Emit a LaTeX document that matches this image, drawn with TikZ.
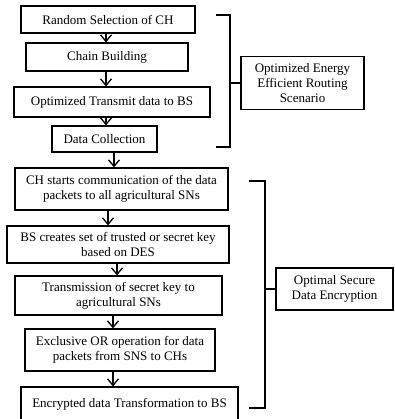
\documentclass[tikz,border=0pt]{standalone}
\usepackage{fontspec}
\setmainfont{Liberation Serif}
\usetikzlibrary{arrows.meta}
\begin{document}
\begin{tikzpicture}[x=1pt,y=-1pt,
  box/.style={draw=black, line width=1.3pt, fill=white, inner sep=0pt,
              align=center, font=\fontsize{13}{15}\selectfont},
  arr/.style={line width=1.3pt, -{Straight Barb[length=6.5pt,width=11pt]}},
  brk/.style={line width=1.3pt}]
\useasboundingbox (0,0) rectangle (394,419);
\clip (0,0) rectangle (394,419);

% column positions of the flow arrows
\coordinate (xa) at (106,0);
\coordinate (xb) at (114,0);
\coordinate (xc) at (108,0);
\coordinate (xd) at (117,0);
\coordinate (xe) at (113,0);

% routing stage
\node[box, minimum width=174pt, minimum height=27pt] (b1) at (108,19.5) {Random Selection of CH};
\node[box, minimum width=162pt, minimum height=28pt] (b2) at (107,57) {Chain Building};
\node[box, minimum width=196pt, minimum height=30pt] (b3) at (112,102) {Optimized Transmit data to BS};
\node[box, minimum width=105pt, minimum height=26pt] (b4) at (104.5,139) {Data Collection};

% encryption stage
\node[box, minimum width=213pt, minimum height=42pt] (b5) at (121.5,189) {CH starts communication of the data\\packets to all agricultural SNs};
\node[box, minimum width=222pt, minimum height=37pt] (b6) at (118,244.5) {BS creates set of trusted or secret key\\based on DES};
\node[box, minimum width=207pt, minimum height=39pt] (b7) at (118.5,295.5) {Transmission of secret key to\\agricultural SNs};
\node[box, minimum width=190pt, minimum height=42pt] (b8) at (120,350) {Exclusive OR operation for data\\packets from SNS to CHs};
\node[box, minimum width=217pt, minimum height=34pt] (b9) at (129.5,404) {Encrypted data Transformation to BS};

% stage labels
\node[box, minimum width=123pt, minimum height=53pt] (r1) at (302.5,83) {Optimized Energy\\Efficient Routing\\Scenario};
\node[box, minimum width=117pt, minimum height=42pt] (r2) at (334.5,289) {Optimal Secure\\Data Encryption};

% flow arrows
\draw[arr] (b1.south -| xa) -- (b2.north -| xa);
\draw[arr] (b2.south -| xa) -- (b3.north -| xa);
\draw[arr] (b3.south -| xa) -- (b4.north -| xa);
\draw[arr] (b4.south -| xb) -- (b5.north -| xb);
\draw[arr] (b5.south -| xc) -- (b6.north -| xc);
\draw[arr] (b6.south -| xd) -- (b7.north -| xd);
\draw[arr] (b7.south -| xe) -- (b8.north -| xe);
\draw[arr] (b8.south -| xe) -- (b9.north -| xe);

% brackets grouping the stages
\coordinate (k1t) at (216,15);
\coordinate (k1b) at (216,147);
\draw[brk] (k1t) -- (230,15) -- (230,147) -- (k1b);
\draw[brk] (r1.west -| 230,0) -- (r1.west);
\coordinate (k2t) at (249,181);
\coordinate (k2b) at (249,408);
\draw[brk] (k2t) -- (265,181) -- (265,408) -- (k2b);
\draw[brk] (r2.west -| 265,0) -- (r2.west);
\end{tikzpicture}
\end{document}
